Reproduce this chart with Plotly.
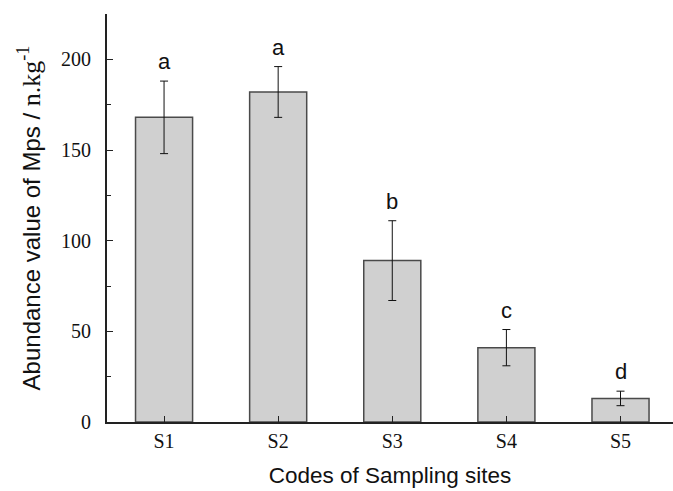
import plotly.graph_objects as go

# Abundance of microplastics per sampling site (mean ± error) with significance letters
sites = ["S1", "S2", "S3", "S4", "S5"]
abundance = [168, 182, 89, 41, 13]
error = [20, 14, 22, 10, 4]
letters = ["a", "a", "b", "c", "d"]

fig = go.Figure()
fig.add_trace(go.Bar(
    x=sites, y=abundance, width=0.5,
    marker=dict(color="#d0d0d0", line=dict(color="#4a4a4a", width=1.5)),
    error_y=dict(type="data", array=error, visible=True, color="#111111", thickness=1, width=4),
    showlegend=False,
))

for s, v, e, t in zip(sites, abundance, error, letters):
    fig.add_annotation(x=s, y=v + e, text=t, showarrow=False, yanchor="bottom", yshift=5,
                       font=dict(family="Liberation Sans, Arial", size=22, color="#111111"))

serif = "Liberation Serif, Times New Roman, serif"
fig.update_layout(
    width=673, height=491,
    margin=dict(l=107, r=0, t=14, b=69),
    plot_bgcolor="white", paper_bgcolor="white",
    bargap=0.5,
    xaxis=dict(
        range=[-0.5, 4.46], showline=True, linecolor="#222222", linewidth=2,
        ticks="inside", ticklen=6, tickcolor="#222222", tickwidth=1,
        minor=dict(ticks="inside", ticklen=3, tickcolor="#222222", tickwidth=1, dtick=1, tick0=0.5),
        tickfont=dict(family=serif, size=20, color="#111111"),
        ticklabelstandoff=0,
        title=dict(text="Codes of Sampling sites", standoff=16,
                   font=dict(family="Liberation Sans, Arial", size=22.5, color="#111111")),
        showgrid=False, zeroline=False,
    ),
    yaxis=dict(
        range=[0, 225], showline=True, linecolor="#222222", linewidth=2,
        tickvals=[0, 50, 100, 150, 200],
        ticks="inside", ticklen=6, tickcolor="#222222", tickwidth=1,
        minor=dict(ticks="inside", ticklen=4, tickcolor="#222222", tickwidth=1, tickvals=[25, 75, 125, 175, 225]),
        tickfont=dict(family=serif, size=20, color="#111111"),
        ticklabelstandoff=10,
        title=dict(text='Abundance value of Mps / <span style="font-family:Liberation Serif;font-size:26px">n.kg<sup>-1</sup></span>',
                   standoff=14,
                   font=dict(family="Liberation Sans, Arial", size=24, color="#111111")),
        showgrid=False, zeroline=False,
    ),
)

fig.write_html("out.html")
